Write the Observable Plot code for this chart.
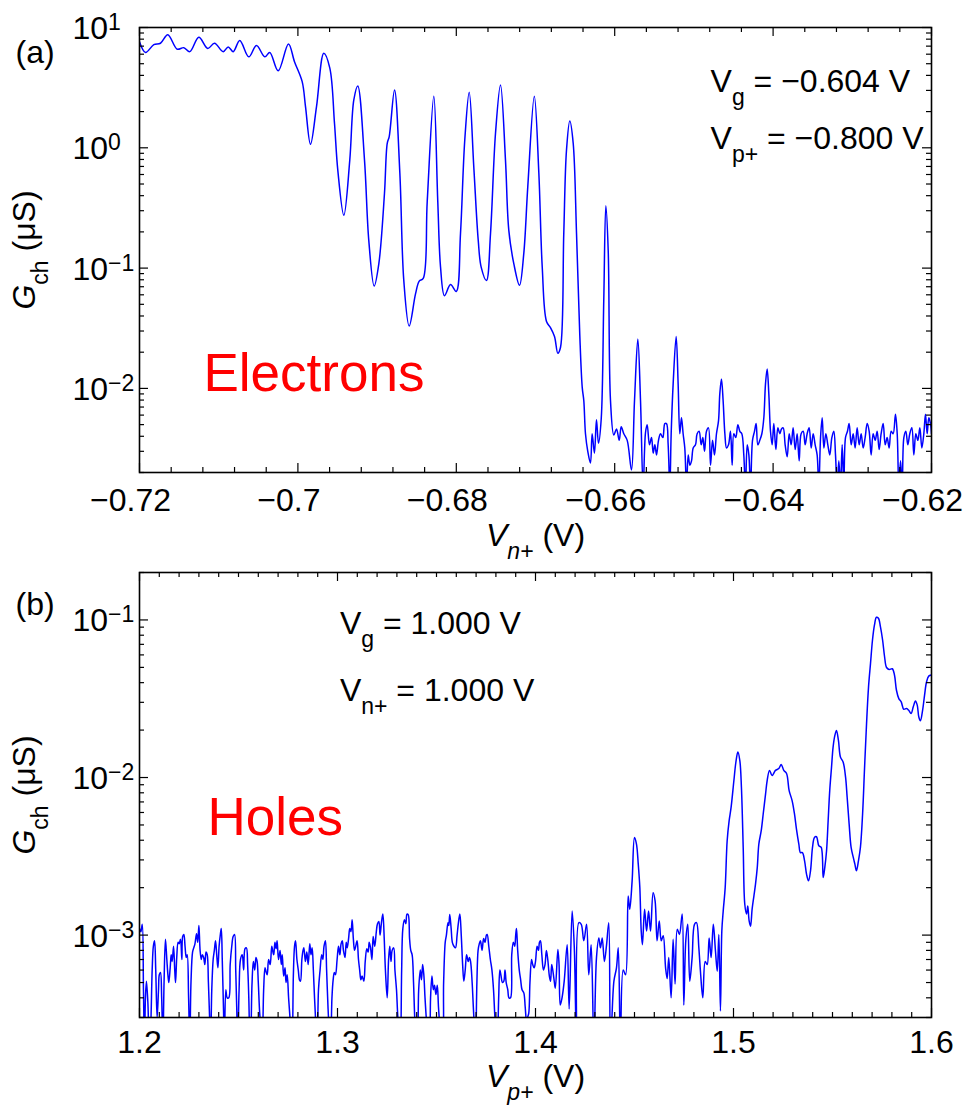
<!DOCTYPE html>
<html><head><meta charset="utf-8">
<script src="https://cdn.jsdelivr.net/npm/d3@7"></script>
<script src="https://cdn.jsdelivr.net/npm/@observablehq/plot@0.6"></script>
<style>
html,body{margin:0;padding:0;background:#fff;}
#chart svg{display:block;}
</style></head><body><div id="chart"></div>
<script>
// ---- Panel (a): electrons, G_ch (uS) vs V_n+ (V) ----
const electrons = [
[-0.72000,7.6],[-0.71924,6.2],[-0.71819,7.2],[-0.71735,7.4],[-0.71643,8.7],[-0.71524,6.6],[-0.71441,6.8],[-0.71365,6.3],
[-0.71251,8.3],[-0.71138,6.7],[-0.71053,7.4],[-0.70943,6.3],[-0.70880,6.9],[-0.70817,6.3],[-0.70734,7.8],[-0.70620,5.7],
[-0.70523,7.1],[-0.70418,5.7],[-0.70355,6.2],[-0.70249,4.36],[-0.70119,7.3],[-0.70043,5.2],[-0.69946,3.55],[-0.69904,2.2],
[-0.69841,1.07],[-0.69765,2.2],[-0.69673,6.1],[-0.69597,4.6],[-0.69538,1.6],[-0.69496,0.65],[-0.69420,0.275],[-0.69345,0.79],
[-0.69294,2.5],[-0.69244,3.27],[-0.69159,0.79],[-0.69105,0.17],[-0.69037,0.071],[-0.68978,0.109],[-0.68907,0.417],[-0.68872,1.09],
[-0.68847,1.24],[-0.68780,3.02],[-0.68713,0.62],[-0.68663,0.079],[-0.68595,0.033],[-0.68515,0.061],[-0.68468,0.078],[-0.68418,0.082],
[-0.68367,0.36],[-0.68284,2.68],[-0.68234,0.36],[-0.68199,0.102],[-0.68149,0.059],[-0.68073,0.073],[-0.68001,0.064],[-0.67947,0.194],
[-0.67893,1.16],[-0.67837,2.9],[-0.67779,0.69],[-0.67723,0.17],[-0.67686,0.102],[-0.67619,0.079],[-0.67568,0.194],[-0.67505,1.32],
[-0.67442,3.33],[-0.67379,0.79],[-0.67337,0.206],[-0.67274,0.109],[-0.67202,0.072],[-0.67148,0.132],[-0.67097,0.48],[-0.67015,2.68],
[-0.66958,0.62],[-0.66915,0.102],[-0.66861,0.036],[-0.66811,0.032],[-0.66760,0.027],[-0.66718,0.0196],[-0.66684,0.022],[-0.66643,0.194],
[-0.66609,0.95],[-0.66567,1.67],[-0.66524,1.09],[-0.66482,0.194],[-0.66441,0.028],[-0.66410,0.0102],[-0.66390,0.0079],[-0.66369,0.0042],
[-0.66340,0.0030],[-0.66306,0.0024],[-0.66285,0.0042],[-0.66256,0.0029],[-0.66230,0.0055],[-0.66205,0.0035],[-0.66170,0.0056],[-0.66138,0.054],
[-0.66112,0.33],[-0.66082,0.14],[-0.66053,0.0079],[-0.66011,0.0041],[-0.65977,0.0046],[-0.65943,0.0037],[-0.65918,0.0048],[-0.65885,0.0042],
[-0.65842,0.0037],[-0.65788,0.0021],[-0.65750,0.0079],[-0.65708,0.0257],[-0.65674,0.0079],[-0.65641,0.0015],[-0.65611,0.0043],[-0.65590,0.0050],
[-0.65561,0.0034],[-0.65535,0.0039],[-0.65514,0.0029],[-0.65493,0.0034],[-0.65472,0.0028],[-0.65447,0.0037],[-0.65422,0.0042],[-0.65392,0.0039],
[-0.65367,0.0051],[-0.65346,0.0051],[-0.65325,0.0034],[-0.65304,0.0015],[-0.65287,0.0042],[-0.65262,0.0109],[-0.65224,0.027],[-0.65199,0.0109],
[-0.65178,0.0042],[-0.65157,0.0057],[-0.65136,0.0042],[-0.65115,0.0032],[-0.65093,0.0015],[-0.65072,0.0028],[-0.65051,0.0023],[-0.65030,0.0025],
[-0.65009,0.0032],[-0.64980,0.0034],[-0.64959,0.0042],[-0.64934,0.0044],[-0.64908,0.0034],[-0.64887,0.0039],[-0.64866,0.0030],[-0.64841,0.0044],
[-0.64816,0.0047],[-0.64790,0.0023],[-0.64765,0.0037],[-0.64740,0.0028],[-0.64715,0.0042],[-0.64689,0.0054],[-0.64673,0.0090],[-0.64652,0.0120],
[-0.64631,0.0079],[-0.64609,0.0042],[-0.64588,0.0032],[-0.64563,0.0034],[-0.64538,0.0044],[-0.64517,0.0023],[-0.64496,0.0042],[-0.64471,0.0039],
[-0.64445,0.0050],[-0.64420,0.0044],[-0.64395,0.0042],[-0.64370,0.0028],[-0.64349,0.0015],[-0.64327,0.0034],[-0.64306,0.0028],[-0.64285,0.0015],
[-0.64260,0.0037],[-0.64235,0.0044],[-0.64214,0.0051],[-0.64193,0.0034],[-0.64168,0.0037],[-0.64142,0.0042],[-0.64117,0.0057],[-0.64096,0.0109],
[-0.64075,0.0145],[-0.64054,0.0090],[-0.64033,0.0044],[-0.64012,0.0034],[-0.63991,0.0051],[-0.63965,0.0031],[-0.63940,0.0047],[-0.63915,0.0042],
[-0.63894,0.0046],[-0.63873,0.0047],[-0.63848,0.0034],[-0.63822,0.0027],[-0.63797,0.0042],[-0.63772,0.0034],[-0.63747,0.0047],[-0.63721,0.0031],
[-0.63696,0.0042],[-0.63671,0.0025],[-0.63646,0.0042],[-0.63620,0.0044],[-0.63595,0.0034],[-0.63570,0.0042],[-0.63545,0.0047],[-0.63519,0.0032],
[-0.63494,0.0042],[-0.63469,0.0034],[-0.63444,0.0028],[-0.63423,0.0015],[-0.63401,0.0039],[-0.63380,0.0057],[-0.63359,0.0032],[-0.63334,0.0042],
[-0.63309,0.0034],[-0.63284,0.0028],[-0.63258,0.0039],[-0.63233,0.0044],[-0.63212,0.0028],[-0.63191,0.0015],[-0.63170,0.0025],[-0.63149,0.0015],
[-0.63128,0.0034],[-0.63107,0.0015],[-0.63086,0.0039],[-0.63061,0.0044],[-0.63040,0.0051],[-0.63014,0.0034],[-0.62989,0.0042],[-0.62964,0.0032],
[-0.62939,0.0047],[-0.62913,0.0034],[-0.62888,0.0042],[-0.62863,0.0032],[-0.62838,0.0039],[-0.62812,0.0051],[-0.62787,0.0044],[-0.62762,0.0028],
[-0.62737,0.0042],[-0.62711,0.0037],[-0.62686,0.0044],[-0.62661,0.0031],[-0.62636,0.0042],[-0.62610,0.0051],[-0.62585,0.0034],[-0.62560,0.0039],
[-0.62535,0.0032],[-0.62509,0.0044],[-0.62484,0.0042],[-0.62455,0.0061],[-0.62433,0.0042],[-0.62412,0.0015],[-0.62391,0.0025],[-0.62370,0.0015],
[-0.62349,0.0039],[-0.62324,0.0044],[-0.62299,0.0034],[-0.62274,0.0042],[-0.62248,0.0047],[-0.62223,0.0028],[-0.62198,0.0042],[-0.62172,0.0037],
[-0.62147,0.0047],[-0.62122,0.0032],[-0.62097,0.0042],[-0.62076,0.0061],[-0.62055,0.0042],[-0.62034,0.0057],[-0.62013,0.0051],[-0.62000,0.0042]
];

// ---- Panel (b): holes, G_ch (uS) vs V_p+ (V) ----
const holes = [
[1.2000,0.00110],[1.2007,0.00105],[1.2014,0.00117],[1.2020,0.00045],[1.2025,0.00020],[1.2030,0.00040],[1.2035,0.00051],[1.2042,0.00038],
[1.2050,0.00020],[1.2056,0.00025],[1.2064,0.00060],[1.2070,0.00085],[1.2076,0.00092],[1.2082,0.00060],[1.2089,0.00030],[1.2096,0.00045],
[1.2100,0.00056],[1.2106,0.00058],[1.2112,0.00040],[1.2118,0.00020],[1.2124,0.00050],[1.2131,0.00094],[1.2138,0.00070],[1.2144,0.00055],
[1.2148,0.00050],[1.2155,0.00062],[1.2160,0.00075],[1.2165,0.00068],[1.2172,0.00085],[1.2178,0.00060],[1.2182,0.00050],[1.2188,0.00072],
[1.2195,0.00090],[1.2200,0.00088],[1.2207,0.00094],[1.2214,0.00070],[1.2218,0.00098],[1.2224,0.00101],[1.2230,0.00085],[1.2236,0.00072],
[1.2241,0.00075],[1.2248,0.00040],[1.2254,0.00020],[1.2260,0.00050],[1.2268,0.00078],[1.2274,0.00083],[1.2280,0.00088],[1.2288,0.00102],
[1.2294,0.00090],[1.2300,0.00115],[1.2306,0.00080],[1.2312,0.00070],[1.2317,0.00075],[1.2324,0.00072],[1.2330,0.00065],[1.2336,0.00078],
[1.2342,0.00075],[1.2348,0.00050],[1.2354,0.00030],[1.2359,0.00020],[1.2365,0.00045],[1.2372,0.00070],[1.2378,0.00080],[1.2384,0.00092],
[1.2390,0.00075],[1.2396,0.00062],[1.2402,0.00085],[1.2408,0.00100],[1.2413,0.00110],[1.2418,0.00070],[1.2424,0.00035],[1.2429,0.00020],
[1.2436,0.00045],[1.2443,0.00040],[1.2451,0.00040],[1.2458,0.00065],[1.2466,0.00085],[1.2473,0.00098],[1.2480,0.00101],[1.2486,0.00060],
[1.2491,0.00035],[1.2496,0.00020],[1.2503,0.00045],[1.2510,0.00070],[1.2519,0.00075],[1.2526,0.00060],[1.2533,0.00082],[1.2540,0.00083],
[1.2546,0.00065],[1.2552,0.00040],[1.2556,0.00025],[1.2561,0.00020],[1.2568,0.00048],[1.2575,0.00068],[1.2582,0.00060],[1.2588,0.00072],
[1.2594,0.00068],[1.2600,0.00050],[1.2607,0.00032],[1.2614,0.00025],[1.2620,0.00020],[1.2627,0.00045],[1.2634,0.00062],[1.2640,0.00058],
[1.2645,0.00056],[1.2652,0.00070],[1.2660,0.00065],[1.2668,0.00085],[1.2674,0.00078],[1.2678,0.00075],[1.2684,0.00090],[1.2690,0.00082],
[1.2695,0.00092],[1.2702,0.00070],[1.2710,0.00080],[1.2716,0.00065],[1.2721,0.00075],[1.2728,0.00055],[1.2735,0.00062],[1.2740,0.00050],
[1.2746,0.00056],[1.2753,0.00040],[1.2760,0.00030],[1.2765,0.00025],[1.2771,0.00020],[1.2777,0.00055],[1.2783,0.00085],[1.2788,0.00092],
[1.2795,0.00070],[1.2802,0.00060],[1.2808,0.00052],[1.2813,0.00051],[1.2820,0.00070],[1.2826,0.00080],[1.2830,0.00083],[1.2838,0.00068],
[1.2845,0.00078],[1.2852,0.00065],[1.2860,0.00088],[1.2866,0.00075],[1.2872,0.00083],[1.2878,0.00060],[1.2884,0.00040],[1.2890,0.00028],
[1.2897,0.00020],[1.2904,0.00045],[1.2912,0.00060],[1.2920,0.00075],[1.2926,0.00070],[1.2932,0.00085],[1.2939,0.00092],[1.2945,0.00060],
[1.2952,0.00035],[1.2958,0.00025],[1.2965,0.00020],[1.2972,0.00040],[1.2978,0.00052],[1.2984,0.00058],[1.2990,0.00056],[1.2998,0.00070],
[1.3005,0.00085],[1.3012,0.00075],[1.3018,0.00088],[1.3024,0.00092],[1.3030,0.00080],[1.3038,0.00072],[1.3044,0.00090],[1.3049,0.00083],
[1.3056,0.00095],[1.3062,0.00110],[1.3068,0.00105],[1.3074,0.00125],[1.3080,0.00095],[1.3086,0.00080],[1.3092,0.00085],[1.3099,0.00092],
[1.3106,0.00070],[1.3112,0.00060],[1.3118,0.00052],[1.3124,0.00055],[1.3133,0.00051],[1.3140,0.00068],[1.3148,0.00082],[1.3155,0.00078],
[1.3160,0.00090],[1.3167,0.00083],[1.3174,0.00070],[1.3180,0.00098],[1.3188,0.00085],[1.3196,0.00105],[1.3202,0.00118],[1.3209,0.00122],
[1.3215,0.00100],[1.3222,0.00120],[1.3229,0.00136],[1.3236,0.00095],[1.3242,0.00060],[1.3251,0.00040],[1.3258,0.00070],[1.3264,0.00085],
[1.3270,0.00068],[1.3276,0.00080],[1.3284,0.00083],[1.3290,0.00060],[1.3298,0.00045],[1.3305,0.00030],[1.3312,0.00025],[1.3318,0.00020],
[1.3324,0.00060],[1.3330,0.00110],[1.3338,0.00125],[1.3345,0.00118],[1.3351,0.00136],[1.3357,0.00135],[1.3364,0.00095],[1.3370,0.00080],
[1.3377,0.00075],[1.3384,0.00050],[1.3390,0.00030],[1.3396,0.00022],[1.3403,0.00020],[1.3410,0.00045],[1.3418,0.00060],[1.3424,0.00052],
[1.3430,0.00065],[1.3436,0.00056],[1.3442,0.00040],[1.3450,0.00028],[1.3458,0.00022],[1.3465,0.00020],[1.3470,0.00040],[1.3477,0.00055],
[1.3484,0.00045],[1.3490,0.00048],[1.3497,0.00042],[1.3504,0.00048],[1.3510,0.00035],[1.3518,0.00025],[1.3524,0.00020],[1.3529,0.00020],
[1.3536,0.00050],[1.3544,0.00090],[1.3550,0.00100],[1.3558,0.00120],[1.3562,0.00115],[1.3567,0.00135],[1.3574,0.00110],[1.3580,0.00090],
[1.3588,0.00085],[1.3596,0.00083],[1.3604,0.00100],[1.3610,0.00118],[1.3618,0.00136],[1.3625,0.00100],[1.3632,0.00065],[1.3638,0.00051],
[1.3645,0.00060],[1.3652,0.00075],[1.3660,0.00068],[1.3666,0.00072],[1.3672,0.00068],[1.3680,0.00050],[1.3686,0.00035],[1.3692,0.00025],
[1.3697,0.00020],[1.3704,0.00050],[1.3710,0.00080],[1.3716,0.00088],[1.3722,0.00092],[1.3730,0.00080],[1.3738,0.00095],[1.3745,0.00090],
[1.3752,0.00100],[1.3756,0.00101],[1.3764,0.00085],[1.3772,0.00070],[1.3780,0.00060],[1.3788,0.00045],[1.3795,0.00030],[1.3800,0.00025],
[1.3807,0.00020],[1.3814,0.00040],[1.3820,0.00060],[1.3826,0.00055],[1.3833,0.00050],[1.3840,0.00051],[1.3846,0.00060],[1.3852,0.00050],
[1.3860,0.00045],[1.3866,0.00040],[1.3874,0.00040],[1.3880,0.00075],[1.3888,0.00090],[1.3895,0.00085],[1.3900,0.00100],[1.3904,0.00110],
[1.3910,0.00080],[1.3918,0.00060],[1.3925,0.00052],[1.3932,0.00045],[1.3941,0.00043],[1.3948,0.00035],[1.3955,0.00028],[1.3960,0.00030],
[1.3966,0.00032],[1.3972,0.00050],[1.3980,0.00070],[1.3986,0.00065],[1.3993,0.00062],[1.4000,0.00068],[1.4008,0.00085],[1.4015,0.00080],
[1.4020,0.00090],[1.4025,0.00092],[1.4032,0.00075],[1.4040,0.00060],[1.4048,0.00065],[1.4055,0.00080],[1.4062,0.00070],[1.4070,0.00055],
[1.4076,0.00051],[1.4082,0.00065],[1.4093,0.00053],[1.4100,0.00046],[1.4113,0.00081],[1.4119,0.00065],[1.4125,0.00036],[1.4134,0.00040],
[1.4145,0.00051],[1.4160,0.00087],[1.4170,0.00034],[1.4185,0.00142],[1.4196,0.00083],[1.4207,0.00020],[1.4219,0.00120],[1.4231,0.00117],
[1.4244,0.00092],[1.4258,0.00117],[1.4269,0.00056],[1.4281,0.00087],[1.4295,0.00020],[1.4308,0.00072],[1.4320,0.00096],[1.4328,0.00083],
[1.4337,0.00096],[1.4348,0.00068],[1.4359,0.00087],[1.4370,0.00120],[1.4379,0.00020],[1.4396,0.00051],[1.4409,0.00062],[1.4418,0.00083],
[1.4429,0.00020],[1.4443,0.00060],[1.4455,0.00056],[1.4468,0.00177],[1.4476,0.00146],[1.4488,0.00221],[1.4500,0.00417],[1.4510,0.00378],
[1.4519,0.00282],[1.4527,0.00200],[1.4534,0.00106],[1.4540,0.00087],[1.4551,0.00146],[1.4561,0.00106],[1.4571,0.00142],[1.4581,0.00106],
[1.4594,0.00186],[1.4604,0.00165],[1.4614,0.00092],[1.4625,0.00123],[1.4635,0.00092],[1.4645,0.00099],[1.4657,0.00062],[1.4665,0.00053],
[1.4673,0.00072],[1.4685,0.00040],[1.4695,0.00094],[1.4705,0.00049],[1.4716,0.00109],[1.4727,0.00101],[1.4741,0.00136],[1.4749,0.00036],
[1.4759,0.00092],[1.4769,0.00117],[1.4779,0.00051],[1.4791,0.00072],[1.4803,0.00117],[1.4813,0.00120],[1.4825,0.00083],[1.4833,0.00059],
[1.4845,0.00040],[1.4857,0.00068],[1.4867,0.00065],[1.4877,0.00096],[1.4887,0.00072],[1.4898,0.00117],[1.4909,0.00079],[1.4918,0.00059],
[1.4926,0.00101],[1.4934,0.00033],[1.4941,0.00106],[1.4948,0.00142],[1.4958,0.00200],[1.4968,0.00397],[1.4978,0.00532],[1.4988,0.00648],
[1.5002,0.00957],[1.5012,0.0125],[1.5022,0.0145],[1.5032,0.0128],[1.5040,0.00868],[1.5049,0.00360],[1.5057,0.00157],[1.5066,0.00136],
[1.5072,0.00153],[1.5079,0.00123],[1.5086,0.00114],[1.5094,0.00146],[1.5103,0.00177],[1.5111,0.00210],[1.5120,0.00268],[1.5128,0.00378],
[1.5140,0.00460],[1.5150,0.00587],[1.5162,0.00787],[1.5170,0.00957],[1.5182,0.0111],[1.5195,0.0103],[1.5212,0.0111],[1.5229,0.0114],
[1.5241,0.0121],[1.5254,0.0111],[1.5268,0.0106],[1.5281,0.00826],[1.5296,0.00714],[1.5308,0.00587],[1.5318,0.00471],[1.5330,0.00378],
[1.5338,0.00334],[1.5348,0.00334],[1.5359,0.00296],[1.5369,0.00243],[1.5379,0.00221],[1.5389,0.00256],[1.5399,0.00360],[1.5409,0.00417],
[1.5419,0.00421],[1.5431,0.00369],[1.5443,0.00360],[1.5453,0.00232],[1.5461,0.00268],[1.5470,0.00343],[1.5478,0.00532],[1.5486,0.00826],
[1.5495,0.0116],[1.5503,0.0156],[1.5512,0.0185],[1.5520,0.0199],[1.5530,0.0172],[1.5540,0.0135],[1.5554,0.0125],[1.5566,0.01005],
[1.5574,0.0075],[1.5584,0.00507],[1.5594,0.00360],[1.5605,0.00311],[1.5613,0.00282],[1.5621,0.00256],[1.5631,0.00296],[1.5641,0.00360],
[1.5652,0.00587],[1.5662,0.0116],[1.5672,0.0220],[1.5682,0.0376],[1.5692,0.0530],[1.5702,0.0746],[1.5712,0.0929],[1.5722,0.104],
[1.5732,0.1025],[1.5742,0.0907],[1.5753,0.0746],[1.5763,0.0584],[1.5773,0.0499],[1.5786,0.0485],[1.5802,0.0490],[1.5813,0.0447],
[1.5823,0.0358],[1.5835,0.0317],[1.5847,0.0302],[1.5860,0.0271],[1.5874,0.0274],[1.5885,0.0267],[1.5897,0.0255],[1.5908,0.0281],
[1.5919,0.0306],[1.5928,0.0288],[1.5936,0.0242],[1.5944,0.0229],[1.5955,0.0267],[1.5965,0.0333],[1.5975,0.0405],[1.5986,0.0440],
[1.6000,0.0447]
];

// ---- axes / ticks / labels ----
const xDomainA = [-0.72, -0.62];
const yDomainA = [0.002, 10];
const xTicksA = [-0.72, -0.70, -0.68, -0.66, -0.64, -0.62];
const xTickLabelsA = ["\u22120.72", "\u22120.7", "\u22120.68", "\u22120.66", "\u22120.64", "\u22120.62"];
const xMinorStepA = 0.004;
const yTicksA = [10, 1, 0.1, 0.01];
const yTickLabelsA = ["10^{1}", "10^{0}", "10^{\u22121}", "10^{\u22122}"];

const xDomainB = [1.2, 1.6];
const yDomainB = [0.0003, 0.2];
const xTicksB = [1.2, 1.3, 1.4, 1.5, 1.6];
const xTickLabelsB = ["1.2", "1.3", "1.4", "1.5", "1.6"];
const xMinorStepB = 0.01;
const yTicksB = [0.1, 0.01, 0.001];
const yTickLabelsB = ["10^{\u22121}", "10^{\u22122}", "10^{\u22123}"];

const notesA = [
  {x: -0.6479, y: 2.90, t: "V_{g} = \u22120.604 V"},
  {x: -0.6479, y: 0.98, t: "V_{p+} = \u22120.800 V"}
];
const carrierA = [{x: -0.71192, y: 0.0096, t: "Electrons"}];
const notesB = [
  {x: 1.3012, y: 0.0817, t: "V_{g} = 1.000 V"},
  {x: 1.3012, y: 0.0308, t: "V_{n+} = 1.000 V"}
];
const carrierB = [{x: 1.2343, y: 0.00429, t: "Holes"}];

const yLabel = "*G*_{ch} (\u03bcS)";
const xLabelA = "*V*_{*n+*} (V)";
const xLabelB = "*V*_{*p+*} (V)";

function minorLinear(domain, step, majors) {
  const n = Math.round((domain[1] - domain[0]) / step);
  const out = [];
  for (let i = 0; i <= n; i++) {
    const v = +(domain[0] + i * step).toFixed(6);
    if (!majors.some(m => Math.abs(m - v) < step / 10)) out.push(v);
  }
  return out;
}
function minorLog(domain) {
  const out = [];
  for (let e = Math.floor(Math.log10(domain[0])); e <= Math.ceil(Math.log10(domain[1])); e++) {
    for (let k = 2; k <= 9; k++) {
      const v = k * Math.pow(10, e);
      if (v >= domain[0] * 0.999 && v <= domain[1] * 1.001) out.push(v);
    }
  }
  return out;
}

const FONT = "'Liberation Sans', Arial, Helvetica, sans-serif";
const FS = 32;
const MAJOR = 9, MINOR = 5;
const W = 967, ML = 139, MR = 36;
const FRAME_W = W - ML - MR;

// inward ticks drawn as frame-spanning rules trimmed with pixel insets
function inwardTicksX(ticks, size, frameH) {
  return [
    Plot.ruleX(ticks, {x: d => d, insetTop: frameH - size, stroke: "black", strokeWidth: 1.2}),
    Plot.ruleX(ticks, {x: d => d, insetBottom: frameH - size, stroke: "black", strokeWidth: 1.2})
  ];
}
function inwardTicksY(ticks, size) {
  return [
    Plot.ruleY(ticks, {y: d => d, insetRight: FRAME_W - size, stroke: "black", strokeWidth: 1.2}),
    Plot.ruleY(ticks, {y: d => d, insetLeft: FRAME_W - size, stroke: "black", strokeWidth: 1.2})
  ];
}

function panel(o) {
  const xMinor = minorLinear(o.xDomain, o.xMinorStep, o.xTicks);
  const yMinor = minorLog(o.yDomain);
  const x0 = o.xDomain[0];
  const frameH = o.height - o.marginTop - o.marginBottom;
  const marks = [
    Plot.line(o.data, {x: d => d[0], y: d => d[1], stroke: "#0000ff", strokeWidth: 1.5, curve: "catmull-rom", clip: true}),
    ...inwardTicksX(o.xTicks, MAJOR, frameH),
    ...inwardTicksX(xMinor, MINOR, frameH),
    ...inwardTicksY(o.yTicks, MAJOR),
    ...inwardTicksY(yMinor, MINOR),
    Plot.frame({stroke: "black", strokeWidth: 1.6}),
    Plot.axisX({ticks: o.xTicks, anchor: "bottom", tickSize: 0, tickPadding: o.tickPad, dx: o.xLabelDx, fontSize: FS, fill: "black", label: null,
      tickFormat: d => o.xTickLabels[o.xTicks.findIndex(t => Math.abs(t - d) < 1e-9)]}),
    Plot.text(o.yTicks, {x: () => x0, y: d => d, text: (d, i) => o.yTickLabels[i], textAnchor: "start", lineAnchor: "bottom",
      dx: -67, dy: 11.5, fontSize: FS, fill: "black"}),
    Plot.text(o.notes, {x: "x", y: "y", text: "t", textAnchor: "start", lineAnchor: "bottom", fontSize: FS, fill: "black"}),
    Plot.text(o.carrier, {x: "x", y: "y", text: "t", textAnchor: "start", lineAnchor: "bottom", fontSize: 53, fill: "#ff0000"}),
    Plot.text([0], {frameAnchor: "bottom", dy: o.xLabelDy, text: () => o.xLabel, textAnchor: "middle", lineAnchor: "bottom", fontSize: FS, fill: "black"}),
    Plot.text([0], {frameAnchor: "left", dx: -105, rotate: -90, text: () => yLabel, textAnchor: "middle", lineAnchor: "bottom", fontSize: FS, fill: "black"}),
    Plot.text([0], {frameAnchor: "top-left", dx: -124, dy: o.tagDy, text: () => o.tag, textAnchor: "start", lineAnchor: "bottom", fontSize: FS, fill: "black"})
  ];
  return Plot.plot({
    width: W, height: o.height,
    marginLeft: ML, marginRight: MR, marginTop: o.marginTop, marginBottom: o.marginBottom,
    style: {fontFamily: FONT, background: "white", color: "black", overflow: "visible"},
    x: {domain: o.xDomain},
    y: {type: "log", domain: o.yDomain, axis: null},
    marks
  });
}

function richify(svg) {
  const SUB = 13, SUP = -9, SMALL = 23;
  svg.querySelectorAll("text").forEach(t => {
    const s = t.textContent;
    if (!/[_^]\{|\*/.test(s)) return;
    const segs = [];
    let buf = "", italic = false, i = 0;
    const flush = () => { if (buf) segs.push({text: buf, mode: "base", italic}); buf = ""; };
    while (i < s.length) {
      const c = s[i];
      if ((c === "_" || c === "^") && s[i + 1] === "{") {
        flush();
        const j = s.indexOf("}", i);
        const inner = s.slice(i + 2, j);
        const mode = c === "_" ? "sub" : "sup";
        let it = italic, b = "";
        for (const ch of inner) {
          if (ch === "*") { if (b) segs.push({text: b, mode, italic: it}); b = ""; it = !it; }
          else b += ch;
        }
        if (b) segs.push({text: b, mode, italic: it});
        i = j + 1;
      } else if (c === "*") { flush(); italic = !italic; i++; }
      else { buf += c; i++; }
    }
    flush();
    t.textContent = "";
    let cur = 0;
    for (const sg of segs) {
      const ts = document.createElementNS("http://www.w3.org/2000/svg", "tspan");
      const target = sg.mode === "sub" ? SUB : sg.mode === "sup" ? SUP : 0;
      if (target !== cur) ts.setAttribute("dy", target - cur);
      cur = target;
      if (sg.mode !== "base") ts.setAttribute("font-size", SMALL);
      if (sg.italic) ts.setAttribute("font-style", "italic");
      ts.textContent = sg.text;
      t.appendChild(ts);
    }
  });
}

const panelA = panel({
  data: electrons, xDomain: xDomainA, yDomain: yDomainA, xTicks: xTicksA, xTickLabels: xTickLabelsA, xMinorStep: xMinorStepA,
  yTicks: yTicksA, yTickLabels: yTickLabelsA, notes: notesA, carrier: carrierA, xLabel: xLabelA, tag: "(a)", tagDy: 35,
  xLabelDx: -9, xLabelDy: 73, tickPad: 16, height: 555, marginTop: 27, marginBottom: 83
});
const panelB = panel({
  data: holes, xDomain: xDomainB, yDomain: yDomainB, xTicks: xTicksB, xTickLabels: xTickLabelsB, xMinorStep: xMinorStepB,
  yTicks: yTicksB, yTickLabels: yTickLabelsB, notes: notesB, carrier: carrierB, xLabel: xLabelB, tag: "(b)", tagDy: 42,
  xLabelDx: 0, xLabelDy: 69, tickPad: 13, height: 550, marginTop: 17, marginBottom: 88
});
richify(panelA); richify(panelB);
const chartEl = document.getElementById("chart");
chartEl.appendChild(panelA);
chartEl.appendChild(panelB);
</script></body></html>
